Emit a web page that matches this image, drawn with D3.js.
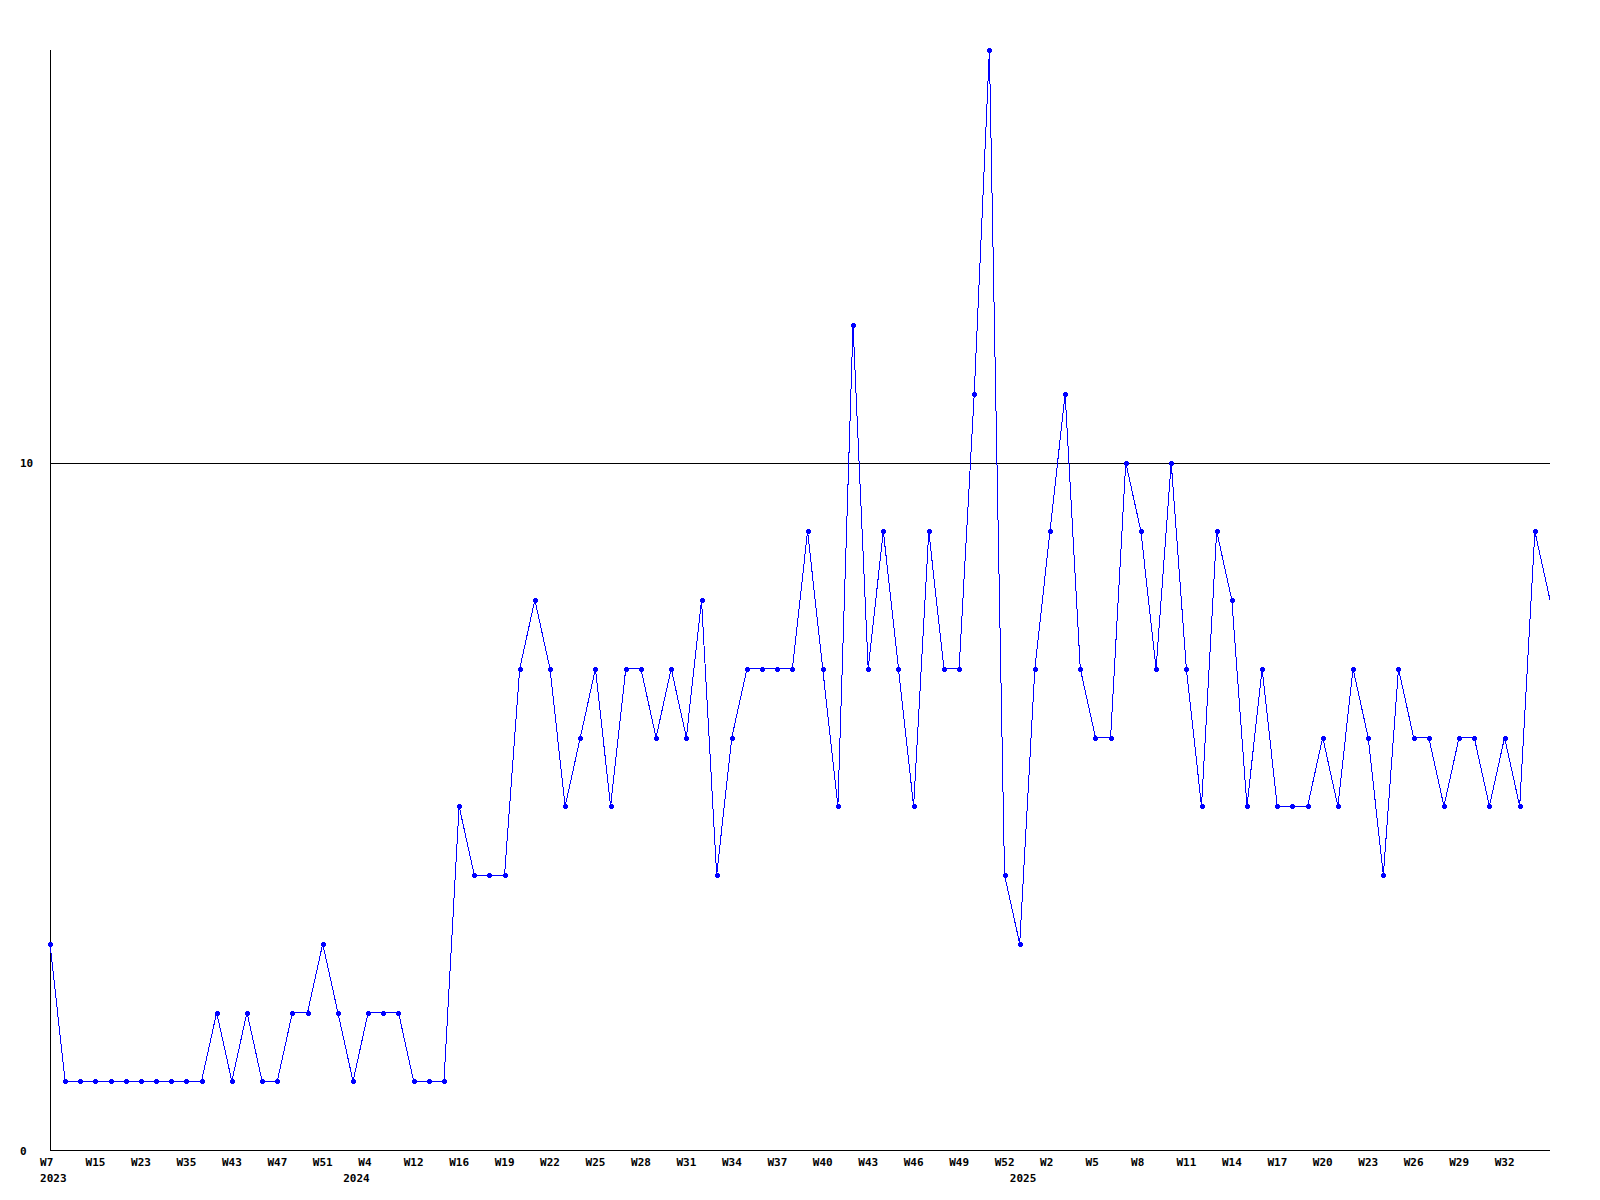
<!DOCTYPE html>
<html>
<head>
<meta charset="utf-8">
<script src="https://cdn.jsdelivr.net/npm/d3@7"></script>
<style>
  html, body { margin: 0; padding: 0; background: #ffffff; }
  svg { display: block; }
  text { font-family: "DejaVu Sans Mono", "Liberation Mono", monospace; font-weight: bold; font-size: 11px; fill: #000; }
</style>
</head>
<body>
<svg id="chart" width="1600" height="1200"></svg>
<script>
// Categories (year-week), one per data point
const categories = [
  "2023-W7","2023-W10","2023-W12","2023-W15","2023-W18","2023-W20","2023-W23","2023-W27","2023-W31","2023-W35",
  "2023-W38","2023-W40","2023-W43","2023-W45","2023-W46","2023-W47","2023-W49","2023-W50","2023-W51","2023-W52",
  "2024-W1","2024-W4","2024-W7","2024-W10","2024-W12","2024-W14","2024-W15","2024-W16","2024-W17","2024-W18",
  "2024-W19","2024-W20","2024-W21","2024-W22","2024-W23","2024-W24","2024-W25","2024-W26","2024-W27","2024-W28",
  "2024-W29","2024-W30","2024-W31","2024-W32","2024-W33","2024-W34","2024-W35","2024-W36","2024-W37","2024-W38",
  "2024-W39","2024-W40","2024-W41","2024-W42","2024-W43","2024-W44","2024-W45","2024-W46","2024-W47","2024-W48",
  "2024-W49","2024-W50","2024-W51","2024-W52","2025-W0","2025-W1","2025-W2","2025-W3","2025-W4","2025-W5",
  "2025-W6","2025-W7","2025-W8","2025-W9","2025-W10","2025-W11","2025-W12","2025-W13","2025-W14","2025-W15",
  "2025-W16","2025-W17","2025-W18","2025-W19","2025-W20","2025-W21","2025-W22","2025-W23","2025-W24","2025-W25",
  "2025-W26","2025-W27","2025-W28","2025-W29","2025-W30","2025-W31","2025-W32","2025-W33","2025-W34","2025-W35"
];

// Series values
const values = [
  3,1,1,1,1,1,1,1,1,1,
  1,2,1,2,1,1,2,2,3,2,
  1,2,2,2,1,1,1,5,4,4,
  4,7,8,7,5,6,7,5,7,7,
  6,7,6,8,4,6,7,7,7,7,
  9,7,5,12,7,9,7,5,9,7,
  7,11,16,4,3,7,9,11,7,6,
  6,10,9,7,10,7,5,9,8,5,
  7,5,5,5,6,5,7,6,4,7,
  6,6,5,6,6,5,6,5,9,8
];

// Tick labels
const yTicks = [0, 10];
const gridValues = [10];
const xLabelEvery = 3;
const yMax = 16;

(function () {
  const svg = d3.select("#chart");
  const mLeft = 50, mRight = 1550, mTop = 50, mBottom = 1150;

  const x = d3.scalePoint().domain(categories).range([mLeft, mRight]);
  const y = d3.scaleLinear().domain([0, yMax]).range([mBottom, mTop]);

  const data = categories.map((c, i) => ({ c, v: values[i], i }));

  // Gridline at 10
  svg.append("g").selectAll("line").data(gridValues).join("line")
    .attr("x1", mLeft).attr("x2", mRight)
    .attr("y1", d => Math.round(y(d)) + 0.5).attr("y2", d => Math.round(y(d)) + 0.5)
    .attr("stroke", "#000").attr("stroke-width", 1).attr("shape-rendering", "crispEdges");

  // Y axis
  const yAxis = d3.axisLeft(y).tickValues(yTicks).tickSize(0).tickFormat(d3.format("d"));
  const gy = svg.append("g").attr("transform", `translate(${mLeft + 0.5},0)`).call(yAxis);
  gy.attr("font-family", null).attr("font-size", null);
  gy.select(".domain").attr("d", `M0,${mTop}V${mBottom}`).attr("stroke", "#000").attr("shape-rendering", "crispEdges");
  gy.selectAll("text").attr("text-anchor", "start").attr("x", 19.5 - mLeft).attr("dy", null)
    .attr("y", 4);

  // X axis (week labels every 3rd point, last point unlabeled)
  const weekTicks = categories.filter((c, i) => i % xLabelEvery === 0 && i < categories.length - 1);
  const xAxis = d3.axisBottom(x).tickValues(weekTicks).tickSize(0).tickFormat(c => c.split("-")[1]);
  const gx = svg.append("g").attr("transform", `translate(0,${mBottom + 0.5})`).call(xAxis);
  gx.attr("font-family", null).attr("font-size", null);
  gx.select(".domain").attr("d", `M${mLeft},0H${mRight}`).attr("stroke", "#000").attr("shape-rendering", "crispEdges");
  gx.selectAll("text").attr("text-anchor", "start").attr("x", -10.4).attr("y", 15).attr("dy", null);

  // Year labels at first point of each year
  const yearTicks = categories.filter((c, i) => i === 0 || c.split("-")[0] !== categories[i - 1].split("-")[0]);
  const yearAxis = d3.axisBottom(x).tickValues(yearTicks).tickSize(0).tickFormat(c => c.split("-")[0]);
  const gyr = svg.append("g").attr("transform", `translate(0,${mBottom + 0.5})`).call(yearAxis);
  gyr.attr("font-family", null).attr("font-size", null);
  gyr.select(".domain").remove();
  gyr.selectAll("text").attr("text-anchor", "start").attr("x", -10.4).attr("y", 31).attr("dy", null);

  // Line
  const line = d3.line().x(d => x(d.c)).y(d => y(d.v));
  svg.append("path").datum(data)
    .attr("d", line)
    .attr("fill", "none").attr("stroke", "#0000ff").attr("stroke-width", 1)
    .attr("shape-rendering", "crispEdges");

  // Markers (small plus shapes); last point has none
  const marks = svg.append("g").attr("fill", "#0000ff").attr("shape-rendering", "crispEdges");
  const md = data.slice(0, data.length - 1);
  marks.selectAll("rect.h").data(md).join("rect").attr("class", "h")
    .attr("x", d => Math.round(x(d.c)) - 2).attr("y", d => Math.round(y(d.v)) - 1)
    .attr("width", 5).attr("height", 3);
  marks.selectAll("rect.v").data(md).join("rect").attr("class", "v")
    .attr("x", d => Math.round(x(d.c)) - 1).attr("y", d => Math.round(y(d.v)) - 2)
    .attr("width", 3).attr("height", 5);
})();
</script>
</body>
</html>
